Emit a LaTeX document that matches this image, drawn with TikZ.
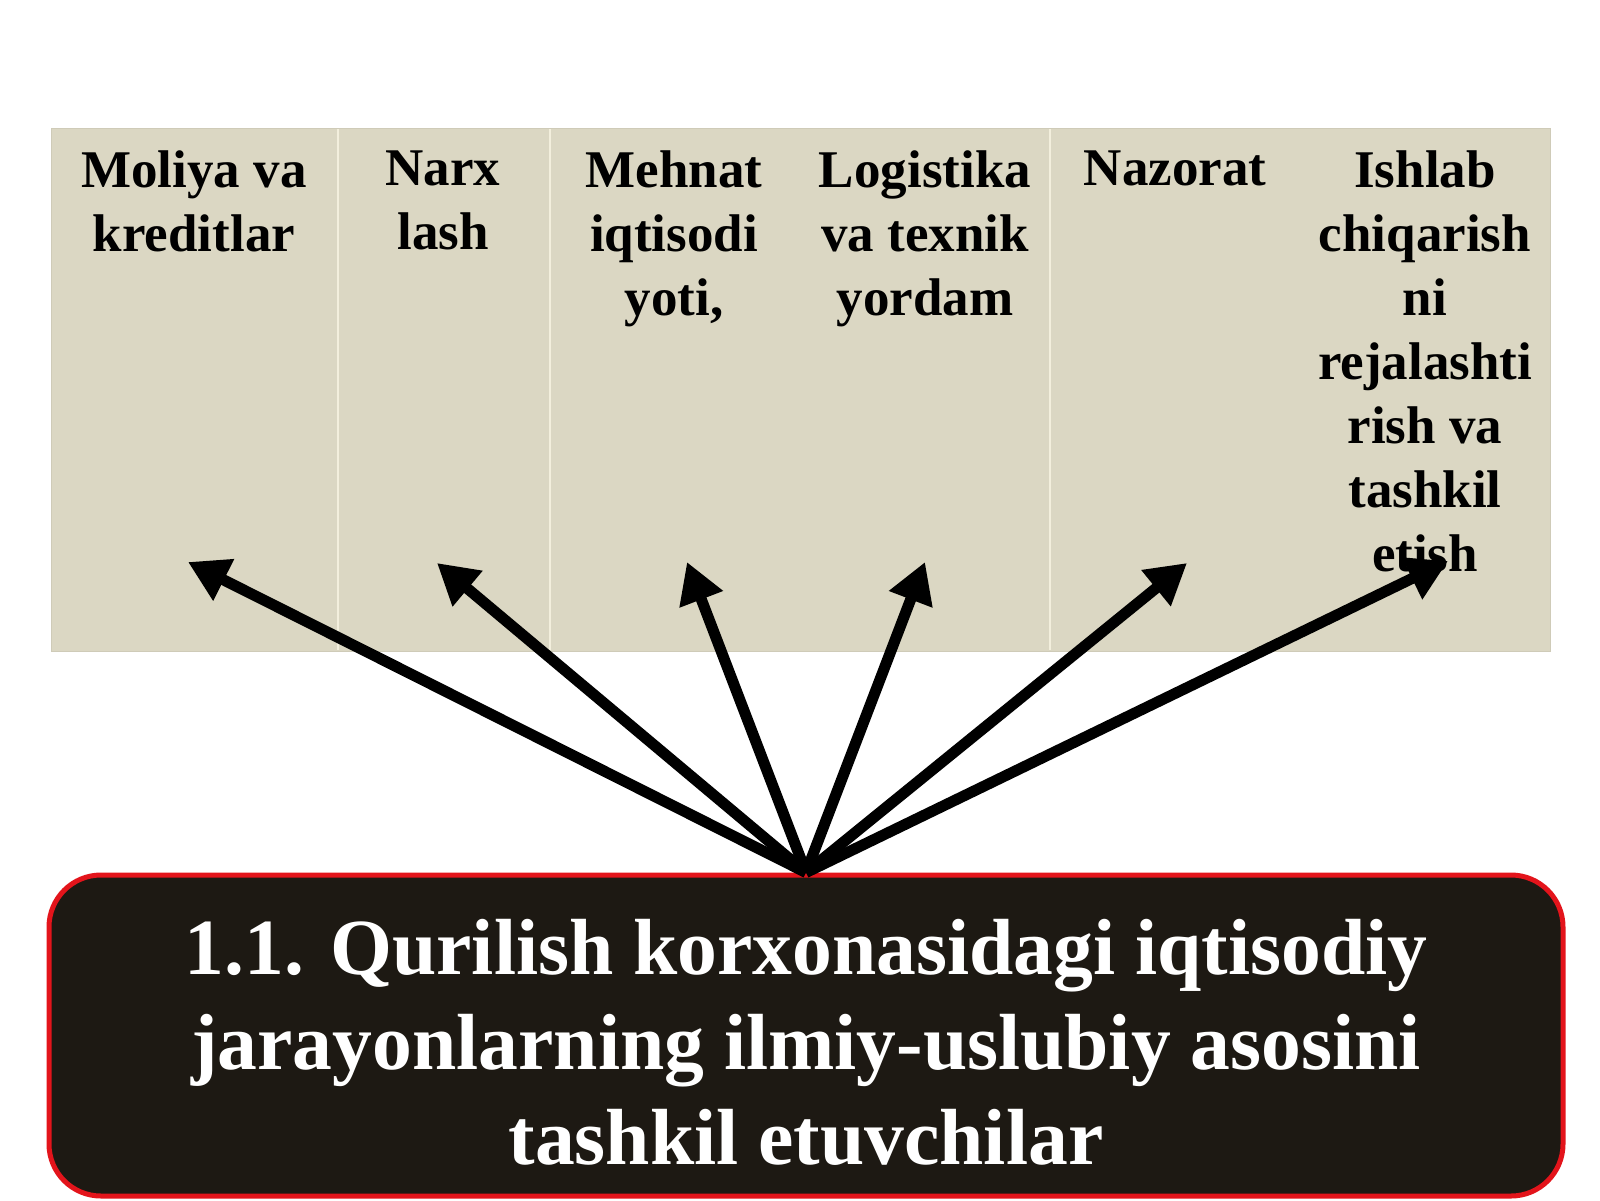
\documentclass[tikz,border=0pt]{standalone}
\usepackage{fontspec}
\setmainfont{Liberation Serif}
\usetikzlibrary{arrows.meta}
\definecolor{tablefill}{HTML}{DBD7C3}
\definecolor{tableedge}{HTML}{CFCBB8}
\definecolor{divline}{HTML}{F3EFDD}
\definecolor{boxfill}{HTML}{1D1913}
\definecolor{boxred}{HTML}{E3141B}
\begin{document}
\begin{tikzpicture}[x=0.5pt,y=-0.5pt,
  coltext/.style={font=\fontsize{26.5}{32}\selectfont\bfseries, align=center, anchor=north, inner sep=0pt, text=black},
  divider/.style={draw=divline, line width=1pt},
  arr/.style={draw=black, line width=5.5pt, -{Triangle[length=20pt,width=22pt]}},
  bigbox/.style={draw=boxred, line width=2.5pt, fill=boxfill, rounded corners=26pt, minimum width=757pt, minimum height=160.5pt, inner sep=0pt},
  boxtext/.style={font=\fontsize{39.8}{47.5}\selectfont\bfseries, align=center, text=white, inner sep=0pt}]
\useasboundingbox[fill=white] (0,0) rectangle (1600,1200);
% table
\node[draw=tableedge, line width=0.6pt, fill=tablefill, minimum width=749.5pt, minimum height=261.5pt, inner sep=0pt, anchor=north west] (table) at (51,128) {};
\draw[divider] (338,129) -- (338,650);
\draw[divider] (550,129) -- (550,650);
\draw[divider] (1050,129) -- (1050,650);
% column texts
\node[coltext] (c1) at (194,150) {Moliya va\\kreditlar};
\node[coltext] (c2) at (443,150) {Narx\\lash};
\node[coltext] (c3) at (674,150) {Mehnat\\iqtisodi\\yoti,};
\node[coltext] (c4) at (925,150) {Logistika\\va texnik\\yordam};
\node[coltext] (c5) at (1175,150) {Nazorat};
\node[coltext] (c6) at (1425,150) {Ishlab\\chiqarish\\ni\\rejalashti\\rish va\\tashkil\\etish};
% bottom box
\node[bigbox] (box) at (806,1035.5) {};
\node[boxtext] (title) at (806,1042) {1.1. Qurilish korxonasidagi iqtisodiy\\jarayonlarning ilmiy-uslubiy asosini\\tashkil etuvchilar};
% arrow tips
\coordinate (t1) at (188,562);
\coordinate (t2) at (437,563);
\coordinate (t3) at (687,562);
\coordinate (t4) at (925,562);
\coordinate (t5) at (1187,563);
\coordinate (t6) at (1448,561);
\coordinate (hub) at (box.north);
\foreach \t in {t1,t2,t3,t4,t5,t6}
  \draw[arr] (hub) -- (\t);
\end{tikzpicture}
\end{document}
